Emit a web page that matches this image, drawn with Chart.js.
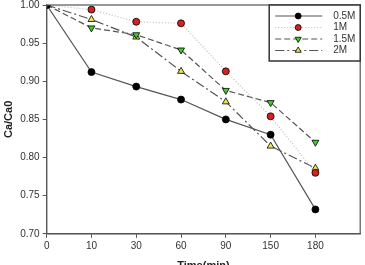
<!DOCTYPE html>
<html>
<head>
	<title>Ca/Ca0 vs time</title>
	<style>
		body { margin: 0; background: #fff; }
		.chartBox { width: 365px; height: 265px; }
	</style>
</head>
<body>
	<div class="chartBox">
	<canvas id="chart1" width="365" height="265"></canvas>
	</div>

	<script src="https://cdn.jsdelivr.net/npm/chart.js@4.4.0/dist/chart.umd.min.js"></script>
	<script>
		// category labels on the x axis (drawn evenly spaced)
		var times = ["0", "10", "30", "60", "90", "150", "180"];
		var yTicks = [0.70, 0.75, 0.80, 0.85, 0.90, 0.95, 1.00];

		// Ca/Ca0
		var c05 = [1.000, 0.912, 0.893, 0.876, 0.850, 0.830, 0.732];
		var c1  = [1.000, 0.994, 0.978, 0.976, 0.913, 0.854, 0.780];
		var c15 = [1.000, 0.970, 0.961, 0.941, 0.888, 0.872, 0.820];
		var c2  = [1.000, 0.981, 0.958, 0.913, 0.873, 0.815, 0.786];

		function pts(arr) {
			return arr.map(function (v, i) { return { x: i, y: v }; });
		}

		var series = [
			{ label: "0.5M", data: c05, line: "#555", dash: [], fill: "#000", style: "circle", rot: 0, r: 3.5 },
			{ label: "1M", data: c1, line: "#bbb", dash: [1, 2], fill: "#d42020", style: "circle", rot: 0, r: 3.5 },
			{ label: "1.5M", data: c15, line: "#555", dash: [6, 3], fill: "#3ecf2a", style: "triangle", rot: 180, r: 4 },
			{ label: "2M", data: c2, line: "#555", dash: [9, 3, 2, 3], fill: "#e8e84a", style: "triangle", rot: 0, r: 4 }
		];

		// legend + plot frame, drawn by hand like the original SigmaPlot box
		var framePlugin = {
			id: "frame",
			afterDraw: function (chart) {
				var ctx = chart.ctx;
				var a = chart.chartArea;
				ctx.save();
				ctx.strokeStyle = "#555";
				ctx.lineWidth = 1.2;
				ctx.strokeRect(a.left, a.top, a.right - a.left, a.bottom - a.top);

				var bx = a.right - 91, by = a.top, bw = 91, bh = 56;
				ctx.fillStyle = "#fff";
				ctx.fillRect(bx, by, bw, bh);
				ctx.strokeStyle = "#333";
				ctx.lineWidth = 1.5;
				ctx.strokeRect(bx, by, bw, bh);

				series.forEach(function (s, i) {
					var y = by + 11 + i * 11.5;
					ctx.strokeStyle = s.line;
					ctx.lineWidth = 1.2;
					ctx.setLineDash(s.dash);
					ctx.beginPath();
					ctx.moveTo(bx + 6, y);
					ctx.lineTo(bx + 53, y);
					ctx.stroke();
					ctx.setLineDash([]);
					ctx.fillStyle = s.fill;
					ctx.strokeStyle = "#000";
					ctx.lineWidth = 0.8;
					Chart.helpers.drawPoint(ctx, { pointStyle: s.style, radius: s.r - 0.5, rotation: s.rot, borderWidth: 0.8 }, bx + 29, y);
					ctx.fillStyle = "#333";
					ctx.font = "10px 'Liberation Sans'";
					ctx.textBaseline = "middle";
					ctx.fillText(s.label, bx + 64, y);
				});
				ctx.restore();
			}
		};

		var ctx = document.getElementById("chart1").getContext("2d");
		var chart = new Chart(ctx, {
			type: "line",
			data: {
				datasets: series.map(function (s) {
					return {
						label: s.label,
						data: pts(s.data),
						borderColor: s.line,
						borderWidth: 1.2,
						borderDash: s.dash,
						pointStyle: s.style,
						pointRotation: s.rot,
						pointRadius: s.r,
						pointBackgroundColor: s.fill,
						pointBorderColor: "#000",
						pointBorderWidth: 0.8,
						tension: 0
					};
				})
			},
			options: {
				responsive: false,
				animation: false,
				layout: { padding: { top: 5, right: 0, left: 2, bottom: 0 } },
				plugins: {
					legend: { display: false },
					tooltip: { enabled: false }
				},
				scales: {
					x: {
						type: "linear",
						min: 0,
						max: 7,
						afterBuildTicks: function (axis) {
							axis.ticks = axis.ticks.filter(function (t) { return t.value <= 6; });
						},
						afterFit: function (axis) {
							axis.paddingRight = 0;
						},
						ticks: {
							stepSize: 1,
							color: "#333",
							font: { family: "Liberation Sans", size: 10 },
							padding: 2,
							callback: function (v) { return times[v]; }
						},
						grid: { drawOnChartArea: false, tickLength: 4, color: "#555" },
						border: { color: "#555", width: 1.2 },
						title: {
							display: true,
							text: "Time(min)",
							color: "#222",
							font: { family: "Liberation Sans", size: 11, weight: "bold" },
							padding: { top: 6, bottom: -8 }
						}
					},
					y: {
						min: 0.70,
						max: 1.00,
						afterBuildTicks: function (axis) {
							axis.ticks = yTicks.map(function (v) { return { value: v }; });
						},
						afterFit: function (axis) {
							axis.paddingTop = 0;
						},
						ticks: {
							color: "#333",
							font: { family: "Liberation Sans", size: 10 },
							padding: 3,
							callback: function (v) { return v.toFixed(2); }
						},
						grid: { drawOnChartArea: false, tickLength: 4, color: "#555" },
						border: { color: "#555", width: 1.2 },
						title: {
							display: true,
							text: "Ca/Ca0",
							color: "#222",
							font: { family: "Liberation Sans", size: 11, weight: "bold" },
							padding: { top: 0, bottom: 2 }
						}
					}
				}
			},
			plugins: [framePlugin]
		});
	</script>
</body>
</html>
